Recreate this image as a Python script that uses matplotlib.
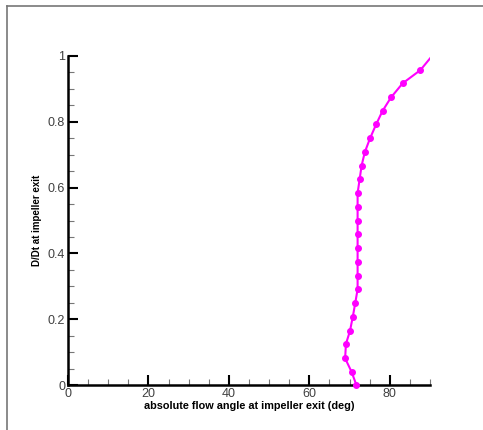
import numpy as np
from matplotlib import pyplot as plt
from matplotlib.lines import Line2D
from matplotlib.ticker import MultipleLocator

# values
angle = [71.7, 70.5, 68.9, 69.1, 70.1, 70.8, 71.4, 72.0, 72.0, 72.0, 72.0, 72.0,
         72.0, 72.0, 72.0, 72.5, 73.0, 73.8, 75.1, 76.6, 78.2, 80.3, 83.2, 87.6, 90.5]
d_dt = [0.0, 0.040, 0.081, 0.125, 0.164, 0.207, 0.248, 0.291, 0.332, 0.375, 0.415, 0.458,
        0.498, 0.541, 0.583, 0.625, 0.667, 0.708, 0.750, 0.792, 0.833, 0.874, 0.917, 0.957, 1.0]

plt.rcParams['font.family'] = ['Liberation Sans', 'DejaVu Sans']

fig = plt.figure(figsize=(4.83, 4.30), dpi=100)
ax = fig.add_axes([68/483, 1-385/430, (430-68)/483, (385-56)/430])

ax.plot(angle, d_dt, color='#ff00ff', lw=1.5)
ax.plot(angle[:-1], d_dt[:-1], 'o', color='#ff00ff', ms=4, clip_on=False, zorder=5)

ax.set_xlim(0, 90)
ax.set_ylim(0, 1)
ax.xaxis.set_major_locator(MultipleLocator(20))
ax.xaxis.set_minor_locator(MultipleLocator(5))
ax.yaxis.set_major_locator(MultipleLocator(0.2))
ax.yaxis.set_minor_locator(MultipleLocator(0.05))
ax.set_yticks([0, 0.2, 0.4, 0.6, 0.8, 1])
ax.set_yticklabels(['0', '0.2', '0.4', '0.6', '0.8', '1'])

for s in ['top', 'right']:
    ax.spines[s].set_visible(False)
for s in ['left', 'bottom']:
    ax.spines[s].set_linewidth(1.8)
ax.tick_params(which='major', direction='in', length=7, width=1.5,
               labelsize=9, labelcolor='#404040', pad=2)
ax.tick_params(which='minor', direction='in', length=4, width=0.8, color='#777777')

ax.set_xlabel('absolute flow angle at impeller exit (deg)', fontsize=7.8, fontweight='bold', labelpad=1)
ax.set_ylabel('D/Dt at impeller exit', fontsize=7, fontweight='bold', labelpad=4)

# screenshot frame
fig.add_artist(Line2D([7/483, 1], [1-6/430, 1-6/430], color='#777777', lw=1.2))
fig.add_artist(Line2D([7/483, 7/483], [0, 1-6/430], color='#777777', lw=1.2))

fig.savefig('out.png', dpi=100)
